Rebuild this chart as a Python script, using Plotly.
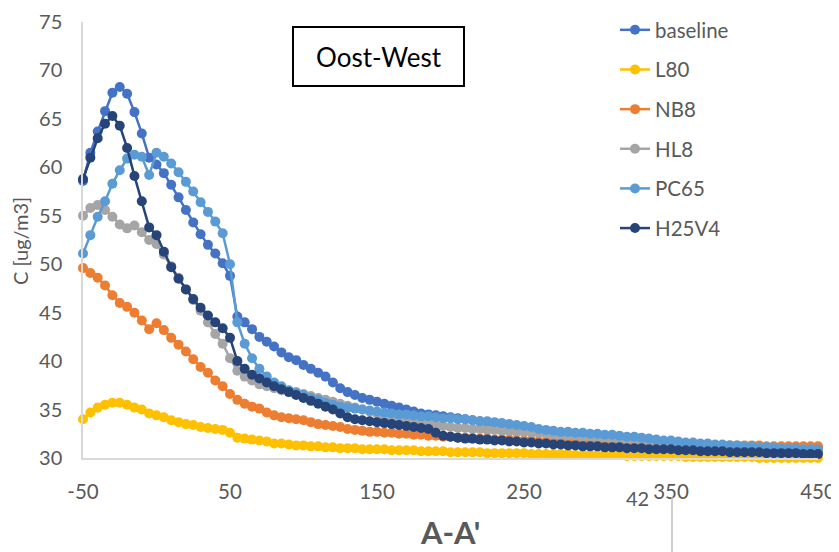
import plotly.graph_objects as go

x_vals = [-50, -45, -40, -35, -30, -25, -20, -15, -10, -5,
          0, 5, 10, 15, 20, 25, 30, 35, 40, 45,
          50, 55, 60, 65, 70, 75, 80, 85, 90, 95,
          100, 105, 110, 115, 120, 125, 130, 135, 140, 145,
          150, 155, 160, 165, 170, 175, 180, 185, 190, 195,
          200, 205, 210, 215, 220, 225, 230, 235, 240, 245,
          250, 255, 260, 265, 270, 275, 280, 285, 290, 295,
          300, 305, 310, 315, 320, 325, 330, 335, 340, 345,
          350, 355, 360, 365, 370, 375, 380, 385, 390, 395,
          400, 405, 410, 415, 420, 425, 430, 435, 440, 445,
          450]

baseline = [58.6, 61.5, 63.7, 65.8, 67.7, 68.3, 67.6, 65.7, 63.5, 61.0,
            60.3, 59.4, 58.2, 56.9, 55.6, 54.3, 53.1, 52.0, 51.1, 50.1,
            48.8, 44.6, 44.0, 43.3, 42.5, 42.0, 41.5, 40.9, 40.4, 40.1,
            39.6, 39.2, 38.8, 38.4, 37.8, 37.2, 36.8, 36.5, 36.2, 36.0,
            35.8, 35.6, 35.4, 35.2, 35.0, 34.8, 34.6, 34.5, 34.4, 34.3,
            34.2, 34.1, 34.0, 33.9, 33.8, 33.7, 33.6, 33.5, 33.3, 33.2,
            33.1, 33.0, 32.9, 32.8, 32.7, 32.6, 32.5, 32.4, 32.3, 32.2,
            32.2, 32.1, 32.0, 32.0, 31.9, 31.8, 31.8, 31.7, 31.6, 31.6,
            31.5, 31.5, 31.4, 31.4, 31.3, 31.3, 31.3, 31.2, 31.2, 31.2,
            31.1, 31.1, 31.1, 31.0, 31.0, 31.0, 31.0, 30.9, 30.9, 30.9,
            30.9]

l80 = [34.0, 34.7, 35.2, 35.5, 35.7, 35.7, 35.5, 35.2, 35.0, 34.6,
       34.4, 34.2, 33.9, 33.7, 33.5, 33.4, 33.2, 33.1, 33.0, 32.9,
       32.6, 32.1, 32.0, 31.9, 31.8, 31.7, 31.5, 31.5, 31.4, 31.3,
       31.3, 31.2, 31.2, 31.1, 31.1, 31.0, 31.0, 31.0, 30.9, 30.9,
       30.9, 30.9, 30.8, 30.8, 30.8, 30.8, 30.7, 30.7, 30.7, 30.7,
       30.6, 30.6, 30.6, 30.6, 30.6, 30.5, 30.5, 30.5, 30.5, 30.5,
       30.5, 30.4, 30.4, 30.4, 30.4, 30.4, 30.4, 30.3, 30.3, 30.3,
       30.3, 30.3, 30.3, 30.3, 30.2, 30.2, 30.2, 30.2, 30.2, 30.2,
       30.2, 30.2, 30.1, 30.1, 30.1, 30.1, 30.1, 30.1, 30.1, 30.1,
       30.1, 30.1, 30.0, 30.0, 30.0, 30.0, 30.0, 30.0, 30.0, 30.0,
       30.0]

nb8 = [49.6, 49.1, 48.6, 47.8, 46.8, 46.0, 45.6, 45.0, 44.2, 43.3,
       43.9, 43.2, 42.4, 41.7, 41.0, 40.2, 39.4, 38.8, 38.0, 37.4,
       36.6, 36.0, 35.6, 35.3, 35.1, 34.7, 34.4, 34.2, 34.1, 34.0,
       33.9, 33.7, 33.5, 33.4, 33.3, 33.2, 33.0, 32.9, 32.8, 32.7,
       32.7, 32.6, 32.6, 32.5, 32.5, 32.4, 32.4, 32.3, 32.3, 32.2,
       32.2, 32.1, 32.1, 32.0, 32.0, 32.0, 31.9, 31.9, 31.9, 31.8,
       31.8, 31.8, 31.7, 31.7, 31.7, 31.6, 31.6, 31.6, 31.6, 31.6,
       31.5, 31.5, 31.5, 31.5, 31.5, 31.4, 31.4, 31.4, 31.4, 31.4,
       31.4, 31.4, 31.4, 31.3, 31.3, 31.3, 31.3, 31.3, 31.3, 31.3,
       31.3, 31.3, 31.3, 31.2, 31.2, 31.2, 31.2, 31.2, 31.2, 31.2,
       31.2]

hl8 = [55.0, 55.8, 56.1, 55.6, 54.9, 54.1, 53.7, 54.0, 53.3, 52.5,
       52.1, 51.0, 49.8, 48.6, 47.4, 46.3, 45.2, 44.0, 42.8, 41.8,
       40.3, 39.0, 38.4, 38.0, 37.6, 37.4, 37.2, 37.0, 36.9, 36.8,
       36.6, 36.4, 36.2, 36.0, 35.8, 35.6, 35.4, 35.2, 35.0, 34.8,
       34.6, 34.4, 34.2, 34.0, 33.8, 33.7, 33.6, 33.5, 33.4, 33.3,
       33.2, 33.1, 33.1, 33.0, 33.0, 32.9, 32.9, 32.8, 32.8, 32.7,
       32.7, 32.6, 32.6, 32.5, 32.4, 32.4, 32.3, 32.3, 32.2, 32.2,
       32.1, 32.1, 32.0, 32.0, 31.9, 31.9, 31.8, 31.8, 31.7, 31.7,
       31.6, 31.6, 31.5, 31.5, 31.4, 31.4, 31.3, 31.3, 31.3, 31.2,
       31.2, 31.1, 31.1, 31.1, 31.0, 31.0, 31.0, 30.9, 30.9, 30.9,
       30.8]

pc65 = [51.1, 53.0, 54.9, 56.5, 58.3, 59.7, 60.9, 61.3, 61.1, 59.2,
        61.5, 61.1, 60.4, 59.5, 58.5, 57.5, 56.4, 55.4, 54.4, 53.2,
        50.0, 44.0, 41.8, 40.3, 39.2, 38.4, 37.8, 37.4, 37.0, 36.7,
        36.5, 36.2, 36.0, 35.7, 35.5, 35.3, 35.2, 35.1, 35.0, 34.9,
        34.8, 34.7, 34.6, 34.5, 34.5, 34.4, 34.3, 34.3, 34.2, 34.1,
        34.1, 34.0, 34.0, 33.9, 33.8, 33.8, 33.7, 33.6, 33.5, 33.4,
        33.3, 33.2, 33.0, 32.9, 32.8, 32.7, 32.7, 32.6, 32.6, 32.5,
        32.5, 32.4, 32.4, 32.3, 32.2, 32.2, 32.1, 32.0, 31.9, 31.8,
        31.8, 31.7, 31.6, 31.6, 31.5, 31.5, 31.4, 31.4, 31.3, 31.3,
        31.2, 31.2, 31.1, 31.1, 31.1, 31.0, 31.0, 31.0, 30.9, 30.9,
        30.9]

h25v4 = [58.8, 61.0, 63.0, 64.5, 65.3, 64.3, 62.0, 59.1, 56.5, 53.8,
         53.0, 51.3, 49.7, 48.5, 47.4, 46.4, 45.5, 44.7, 44.0, 43.4,
         42.4, 40.0, 39.2, 38.6, 38.2, 37.8, 37.4, 37.1, 36.8, 36.5,
         36.2, 35.9, 35.6, 35.3, 35.0, 34.6, 34.2, 34.0, 33.9, 33.8,
         33.7, 33.6, 33.5, 33.4, 33.3, 33.2, 33.1, 33.0, 32.6, 32.3,
         32.2, 32.1, 32.0, 32.0, 31.9, 31.9, 31.8, 31.8, 31.7, 31.7,
         31.6, 31.6, 31.5, 31.5, 31.4, 31.4, 31.3, 31.3, 31.2, 31.2,
         31.2, 31.1, 31.1, 31.1, 31.0, 31.0, 31.0, 30.9, 30.9, 30.9,
         30.9, 30.8, 30.8, 30.8, 30.7, 30.7, 30.7, 30.7, 30.6, 30.6,
         30.6, 30.6, 30.6, 30.5, 30.5, 30.5, 30.5, 30.5, 30.4, 30.4,
         30.4]

series_names = ["baseline", "L80", "NB8", "HL8", "PC65", "H25V4"]
series_values = [baseline, l80, nb8, hl8, pc65, h25v4]
series_colors = ["#4472C4", "#FFC000", "#ED7D31", "#A5A5A5", "#5B9BD5", "#264478"]

x_ticks = [-50, 50, 150, 250, 350, 450]
y_ticks = [30, 35, 40, 45, 50, 55, 60, 65, 70, 75]

FONT = "Lato, 'Open Sans', sans-serif"
GRAY = "#595959"

fig = go.Figure()
for name, vals, col in zip(series_names, series_values, series_colors):
    fig.add_trace(go.Scatter(
        x=x_vals, y=vals, name=name, mode="lines+markers",
        line=dict(color=col, width=2.5),
        marker=dict(color=col, size=10),
        cliponaxis=False, legendgroup=name,
    ))

# page has an 8px body margin: figure sits at (8, 8) in the window
OFF = 8
W, H = 839 - OFF, 552 - OFF
L, T = 83 - OFF, 22 - OFF
R, B = 21, 94
pw, ph = W - L - R, H - T - B

def px(sx):
    return (sx - OFF - L) / pw

def py(sy):
    return (H - B - (sy - OFF)) / ph

fig.update_layout(
    width=W, height=H,
    margin=dict(l=L, r=R, t=T, b=B, autoexpand=False),
    paper_bgcolor="white", plot_bgcolor="white",
    font=dict(family=FONT, color=GRAY),
    showlegend=True,
    legend=dict(
        x=px(615), y=py(10), xanchor="left", yanchor="top",
        font=dict(size=20.5, color=GRAY, family=FONT),
        tracegroupgap=10, bgcolor="rgba(0,0,0,0)",
    ),
    xaxis=dict(
        range=[-50, 450], tickvals=x_ticks, ticktext=[str(v) for v in x_ticks],
        showgrid=False, zeroline=False, showline=True, linecolor="#D9D9D9", linewidth=1.5,
        ticks="", tickfont=dict(size=20.5, color=GRAY), ticklabelstandoff=15,
        automargin=False,
    ),
    yaxis=dict(
        range=[30, 75], tickvals=y_ticks,
        showgrid=False, zeroline=False, showline=True, linecolor="#D9D9D9", linewidth=1.5,
        ticks="", tickfont=dict(size=20, color=GRAY), ticklabelstandoff=15,
        automargin=False,
    ),
)

fig.add_shape(type="rect", xref="paper", yref="paper",
              x0=px(293), x1=px(464), y0=py(86), y1=py(27),
              line=dict(color="black", width=2), fillcolor="white", layer="above")
fig.add_annotation(xref="paper", yref="paper", x=px(378.5), y=py(57),
                   xanchor="center", yanchor="middle",
                   text="Oost-West", showarrow=False,
                   font=dict(size=26, color="black", family=FONT))
fig.add_annotation(xref="paper", yref="paper", x=px(20), y=py(241),
                   xanchor="center", yanchor="middle",
                   text="C [ug/m3]", textangle=-90, showarrow=False,
                   font=dict(size=20, color=GRAY, family=FONT))
fig.add_annotation(xref="paper", yref="paper", x=px(450), y=py(532),
                   xanchor="center", yanchor="middle",
                   text="<b>A-A'</b>", showarrow=False,
                   font=dict(size=31, color=GRAY, family=FONT))
fig.add_annotation(xref="paper", yref="paper", x=px(637), y=py(498),
                   xanchor="center", yanchor="middle",
                   text="42", showarrow=False,
                   font=dict(size=20, color=GRAY, family=FONT))
fig.add_shape(type="line", xref="paper", yref="paper",
              x0=px(672), x1=px(672), y0=py(497), y1=py(552),
              line=dict(color="#BFBFBF", width=1.5))

fig.write_html("out.html")
